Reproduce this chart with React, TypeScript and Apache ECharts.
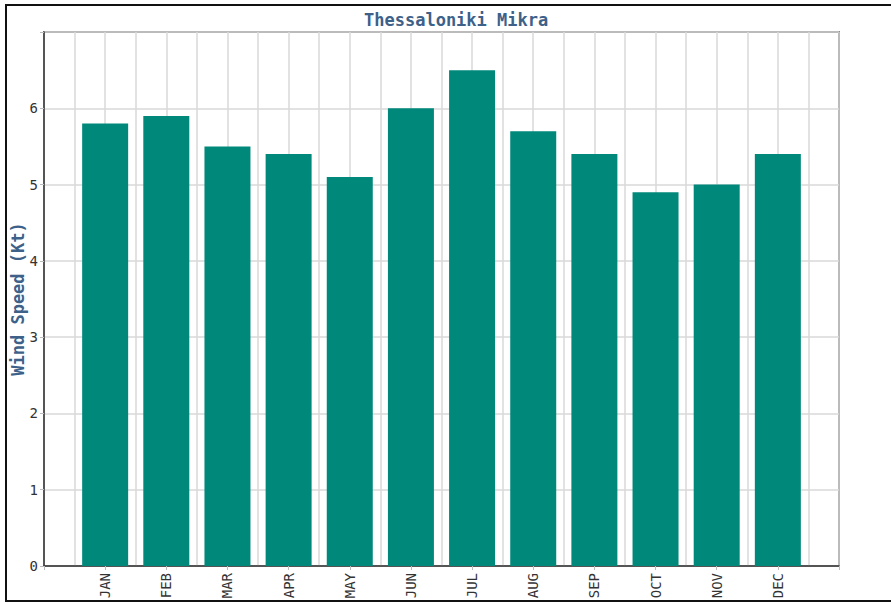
import React, { useEffect, useRef } from "react";
import * as echarts from "echarts";

const months = ["JAN", "FEB", "MAR", "APR", "MAY", "JUN", "JUL", "AUG", "SEP", "OCT", "NOV", "DEC"];
const windSpeed = [5.8, 5.9, 5.5, 5.4, 5.1, 6.0, 6.5, 5.7, 5.4, 4.9, 5.0, 5.4];
const yTicks = [0, 1, 2, 3, 4, 5, 6];

export default function App() {
  const ref = useRef<HTMLDivElement>(null);
  useEffect(() => {
    const chart = echarts.init(ref.current!, undefined, { renderer: "svg" });
    const mono = "DejaVu Sans Mono";
    chart.setOption({
      animation: false,
      backgroundColor: "#fff",
      title: {
        text: "Thessaloniki Mikra",
        left: 359,
        top: 6,
        textStyle: { fontFamily: mono, fontSize: 17, fontWeight: "bold", color: "#3d6189" },
      },
      graphic: [
        {
          type: "rect",
          shape: { x: 6, y: 5, width: 1000, height: 596 },
          style: { fill: "none", stroke: "#111", lineWidth: 2 },
          silent: true,
        },
      ],
      grid: {
        left: 44,
        right: 52,
        top: 32,
        bottom: 37,
        show: true,
        borderColor: "#333",
        borderWidth: 1.5,
        containLabel: false,
        outerBoundsMode: "none",
      },
      xAxis: {
        type: "value",
        min: 0,
        max: 13,
        interval: 1,
        axisLine: { show: true, lineStyle: { color: "#333", width: 1.5 } },
        axisTick: { show: true, length: 4, lineStyle: { color: "#bbb" } },
        axisLabel: {
          rotate: 90,
          margin: 7,
          fontFamily: mono,
          fontSize: 14,
          color: "#333",
          formatter: (v: number) => (Number.isInteger(v) && v >= 1 && v <= months.length ? months[v - 1] : ""),
        },
        splitLine: { show: true, lineStyle: { color: "#d9d9d9", width: 1.5 } },
        minorTick: { show: false, splitNumber: 2 },
        minorSplitLine: { show: true, lineStyle: { color: "#d9d9d9", width: 1.5 } },
      },
      yAxis: {
        type: "value",
        min: 0,
        max: 7,
        interval: 1,
        name: "Wind Speed (Kt)",
        nameLocation: "middle",
        nameGap: 18,
        nameMoveOverlap: false,
        nameTextStyle: { fontFamily: mono, fontSize: 17, fontWeight: "bold", color: "#3d6189" },
        axisLine: { show: true, lineStyle: { color: "#333", width: 1.5 } },
        axisTick: { show: true, length: 4, lineStyle: { color: "#bbb" } },
        axisLabel: {
          margin: 6,
          fontFamily: mono,
          fontSize: 14,
          color: "#333",
          formatter: (v: number) => (yTicks.includes(v) ? String(v) : ""),
        },
        splitLine: { show: true, lineStyle: { color: "#d9d9d9", width: 1.5 } },
      },
      series: [
        {
          type: "bar",
          barWidth: 46,
          itemStyle: { color: "#00897b" },
          data: months.map((m, i) => [i + 1, windSpeed[i]]),
        },
      ],
    });
    return () => chart.dispose();
  }, []);
  return <div ref={ref} style={{ position: "fixed", left: 0, top: 0, width: 891, height: 603 }} />;
}
